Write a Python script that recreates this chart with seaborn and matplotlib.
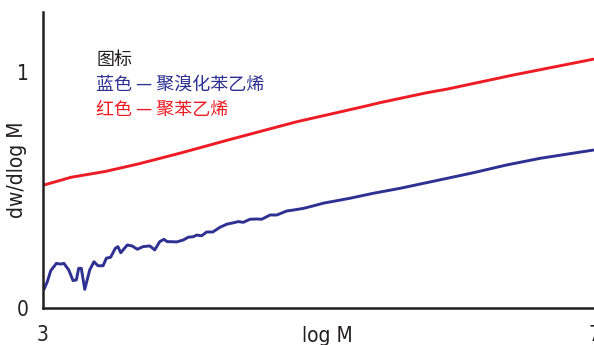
import matplotlib
matplotlib.use("Agg")
import matplotlib.pyplot as plt
import seaborn as sns
import pandas as pd
from matplotlib.ticker import FixedLocator

# ---- data ----
blue_x = [3.007, 3.031, 3.056, 3.097, 3.128, 3.152, 3.187, 3.218, 3.242, 3.259,
          3.278, 3.303, 3.339, 3.370, 3.399, 3.436, 3.460, 3.491, 3.525, 3.544,
          3.564, 3.612, 3.646, 3.685, 3.726, 3.775, 3.811, 3.847, 3.878, 3.902,
          3.922, 3.971, 4.018, 4.055, 4.091, 4.116, 4.152, 4.188, 4.232, 4.285,
          4.334, 4.381, 4.418, 4.454, 4.503, 4.551, 4.588, 4.648, 4.697, 4.769,
          4.817, 4.890, 4.938, 5.035, 5.229, 5.398, 5.592, 5.761, 5.955, 6.124,
          6.366, 6.608, 6.850, 6.995]
blue_y = [0.079, 0.111, 0.158, 0.189, 0.186, 0.189, 0.161, 0.116, 0.119, 0.168,
          0.168, 0.079, 0.161, 0.196, 0.179, 0.179, 0.211, 0.215, 0.253, 0.260,
          0.234, 0.267, 0.263, 0.249, 0.260, 0.263, 0.246, 0.281, 0.291, 0.281,
          0.281, 0.280, 0.288, 0.300, 0.302, 0.309, 0.306, 0.322, 0.322, 0.342,
          0.355, 0.361, 0.366, 0.363, 0.376, 0.377, 0.376, 0.394, 0.394, 0.411,
          0.415, 0.422, 0.429, 0.444, 0.465, 0.486, 0.507, 0.528, 0.552, 0.573,
          0.606, 0.634, 0.656, 0.669]
red_x = [3.007, 3.205, 3.448, 3.690, 4.002, 4.358, 4.842, 5.325, 5.447, 5.786,
         5.931, 6.414, 6.995]
red_y = [0.521, 0.554, 0.578, 0.610, 0.657, 0.714, 0.789, 0.853, 0.870, 0.912,
         0.927, 0.987, 1.054]

x_ticklabels = ["3", "7"]
y_ticklabels = ["0", "1"]
title_text = "图标"
blue_text = "蓝色 — 聚溴化苯乙烯"
red_text = "红色 — 聚苯乙烯"
x_label = "log M"
y_label = "dw/dlog M"

BLUE = "#2e3192"
RED = "#ed1c24"
INK = "#231f20"

df = pd.concat([
    pd.DataFrame({"logM": blue_x, "dw": blue_y, "s": "blue"}),
    pd.DataFrame({"logM": red_x, "dw": red_y, "s": "red"}),
])

sns.set_theme(style="white")
plt.rcParams["font.family"] = ["DejaVu Sans"]
plt.rcParams["font.stretch"] = "condensed"

fig = plt.figure(figsize=(5.94, 3.45), dpi=100)
ax = fig.add_axes([43 / 594, 37 / 345, 551 / 594, 296 / 345])

sns.lineplot(data=df, x="logM", y="dw", hue="s", palette={"blue": BLUE, "red": RED},
             ax=ax, linewidth=2.1, legend=False, estimator=None, sort=False)

ax.set_xlim(3, 7)
ax.set_ylim(0, 1.254)
for side in ["top", "right"]:
    ax.spines[side].set_visible(False)
for side in ["left", "bottom"]:
    ax.spines[side].set_color(INK)
    ax.spines[side].set_linewidth(1.8)

ax.set_xticks([3, 7])
ax.set_xticklabels(x_ticklabels)
ax.set_yticks([0, 1])
ax.set_yticklabels(y_ticklabels)
ax.xaxis.set_minor_locator(FixedLocator([3.8, 4.6, 5.4, 6.2]))
ax.yaxis.set_minor_locator(FixedLocator([0.25, 0.5, 0.75]))
ax.tick_params(axis="both", which="both", direction="in", colors=INK,
               labelsize=15, length=4, width=1.2, labelcolor=INK)
ax.tick_params(axis="x", which="major", pad=12)
ax.tick_params(axis="y", which="major", pad=10)

ax.set_xlabel(x_label, fontsize=15, color=INK)
ax.set_ylabel(y_label, fontsize=15, color=INK)
ax.xaxis.set_label_coords((327 - 43) / 551, (308 - 336) / 296)
ax.xaxis.label.set_verticalalignment("center")
ax.yaxis.set_label_coords((27 - 43) / 551, (308 - 170) / 296)

cjk = ["Noto Sans CJK SC", "DejaVu Sans"]
fig.text(96 / 594, 1 - 60 / 345, title_text, color=INK, fontsize=13, family=cjk,
         va="center", stretch="normal")
fig.text(96 / 594, 1 - 86 / 345, blue_text, color=BLUE, fontsize=13, family=cjk,
         va="center", stretch="normal")
fig.text(96 / 594, 1 - 110 / 345, red_text, color=RED, fontsize=13, family=cjk,
         va="center", stretch="normal")

fig.savefig("out.png", dpi=100)
